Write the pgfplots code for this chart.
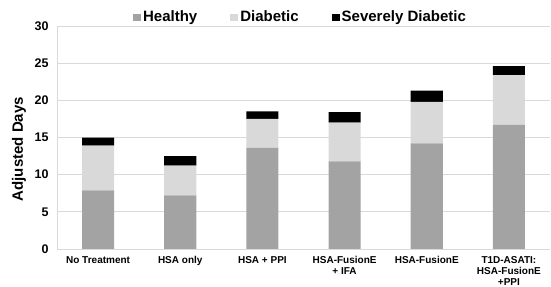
\documentclass[border=0pt]{standalone}
\usepackage{pgfplots}
\pgfplotsset{compat=1.18}
\usepackage{fontspec}
\setmainfont{Liberation Sans}
\definecolor{healthy}{HTML}{A3A3A3}
\definecolor{diab}{HTML}{D9D9D9}
\definecolor{gridc}{HTML}{D9D9D9}
\begin{document}
\begin{tikzpicture}
\path[use as bounding box] (-57bp,-38bp) rectangle (494bp,249bp);
\begin{axis}[
  at={(0,0)}, anchor=south west,
  scale only axis, width=493bp, height=223bp,
  ybar stacked, bar width=32bp,
  xmin=-0.5, xmax=5.5, ymin=0, ymax=30,
  ytick={0,5,...,30},
  xtick=data,
  xticklabels={No Treatment, HSA only, HSA + PPI, {HSA-FusionE\\+ IFA}, HSA-FusionE, {T1D-ASATI:\\HSA-FusionE\\+PPI}},
  xticklabel style={font=\fontsize{10bp}{11bp}\selectfont\bfseries, align=center, yshift=-4bp},
  yticklabel style={font=\fontsize{12.5bp}{14bp}\selectfont\bfseries, xshift=-5bp},
  /pgf/number format/assume math mode=true,
  major tick length=0pt,
  axis x line*=bottom, axis y line*=left,
  axis line style={gridc, line width=1pt, -},
  ymajorgrids, grid style={gridc, line width=0.8pt},
  ylabel={Adjusted Days},
  ylabel style={font=\fontsize{15bp}{17bp}\selectfont\bfseries, at={(axis description cs:-0.0771,0.448)}, anchor=center},
  legend columns=3,
  legend style={at={(axis description cs:0.154,1.040)}, anchor=west, draw=none, fill=none, inner sep=0pt,
    font=\fontsize{15bp}{17bp}\selectfont\bfseries,
    nodes={inner xsep=2bp, inner ysep=1bp},
    /tikz/every odd column/.append style={column sep=0bp},
    /tikz/every even column/.append style={column sep=31bp}},
  legend image code/.code={\fill[#1] (0bp,-3.5bp) rectangle (8bp,3.5bp);},
]
\addplot[fill=healthy, draw=none] coordinates {(0,7.9) (1,7.2) (2,13.6) (3,11.8) (4,14.2) (5,16.7)};
\addplot[fill=diab, draw=none] coordinates {(0,6.0) (1,4.0) (2,3.9) (3,5.2) (4,5.6) (5,6.7)};
\addplot[fill=black, draw=none] coordinates {(0,1.1) (1,1.3) (2,1.0) (3,1.4) (4,1.5) (5,1.2)};
\legend{Healthy, Diabetic, Severely Diabetic}
\end{axis}
\end{tikzpicture}
\end{document}
